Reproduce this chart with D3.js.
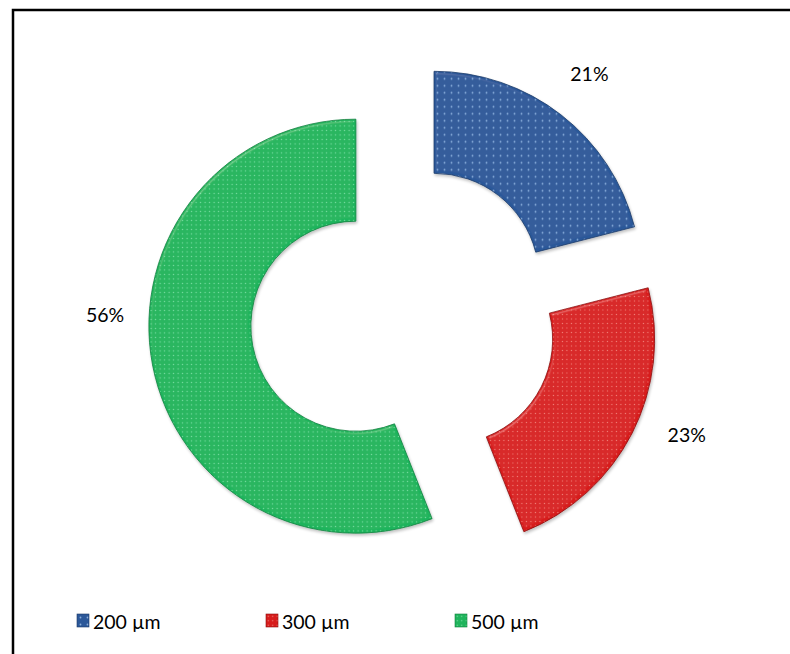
<!DOCTYPE html>
<html>
<head>
<meta charset="utf-8">
<script src="https://cdn.jsdelivr.net/npm/d3@7"></script>
<style>
  body { margin: 0; background: #fff; }
  svg text { font-family: Lato, "Open Sans", sans-serif; fill: #000; }
</style>
</head>
<body>
<div id="chart"></div>
<script>
// data
const categories = ["200 µm", "300 µm", "500 µm"];
const values = [21, 23, 56];
const labels = ["21%", "23%", "56%"];
const colors = ["#2C5899", "#D71C1C", "#1FB45C"];
const dotColors = ["#A3C2EA", "#F39A90", "#95E8B6"];
const darkColors = ["#1B3A68", "#8A0F0F", "#11803F"];

const width = 790, height = 654;
const cx = 404, cy = 317;
const outerR = 207, innerR = 105;
const explode = 49;
// Excel best-fit label placement: angle (deg) and distance from centre
const labelAngles = [37.3, 112.5, 270.5];
const labelDist = [306, 306, 299];

const svg = d3.select("#chart")
  .append("svg")
  .attr("width", width)
  .attr("height", height);

// frame
svg.append("rect")
  .attr("x", 13).attr("y", 10)
  .attr("width", 800).attr("height", 700)
  .attr("fill", "none")
  .attr("stroke", "#000")
  .attr("stroke-width", 2.5);

// dotted fill patterns
const defs = svg.append("defs");
const spacing = [7, 4.5, 4.5];
colors.forEach((c, i) => {
  const s = spacing[i];
  const p = defs.append("pattern")
    .attr("id", "pat" + i)
    .attr("patternUnits", "userSpaceOnUse")
    .attr("width", s).attr("height", s);
  p.append("rect").attr("width", s).attr("height", s).attr("fill", c);
  p.append("circle")
    .attr("cx", s / 2).attr("cy", s / 2)
    .attr("r", i === 0 ? 0.9 : 0.7)
    .attr("fill", dotColors[i])
    .attr("opacity", 0.8);
});

// bevel + soft shadow
const f = defs.append("filter").attr("id", "bevel")
  .attr("x", "-10%").attr("y", "-10%").attr("width", "120%").attr("height", "120%");
f.append("feGaussianBlur").attr("in", "SourceAlpha").attr("stdDeviation", 1.5).attr("result", "blur");
const spec = f.append("feSpecularLighting")
  .attr("in", "blur").attr("surfaceScale", 3)
  .attr("specularConstant", 0.5).attr("specularExponent", 25)
  .attr("lighting-color", "#ffffff").attr("result", "spec");
spec.append("feDistantLight").attr("azimuth", 235).attr("elevation", 40);
f.append("feComposite").attr("in", "spec").attr("in2", "SourceAlpha")
  .attr("operator", "in").attr("result", "specOut");
f.append("feComposite").attr("in", "SourceGraphic").attr("in2", "specOut")
  .attr("operator", "arithmetic").attr("k1", 0).attr("k2", 1).attr("k3", 0.25).attr("k4", 0)
  .attr("result", "lit");
f.append("feOffset").attr("in", "SourceAlpha").attr("dx", 1).attr("dy", 2).attr("result", "off");
f.append("feGaussianBlur").attr("in", "off").attr("stdDeviation", 1.5).attr("result", "offBlur");
f.append("feComponentTransfer").attr("in", "offBlur").attr("result", "shadow")
  .append("feFuncA").attr("type", "linear").attr("slope", 0.25);
const m = f.append("feMerge");
m.append("feMergeNode").attr("in", "shadow");
m.append("feMergeNode").attr("in", "lit");

const pie = d3.pie().sort(null).value(d => d)(values);
const arc = d3.arc().innerRadius(innerR).outerRadius(outerR);

const g = svg.append("g").attr("transform", `translate(${cx},${cy})`);

g.selectAll(".slice")
  .data(pie)
  .enter()
  .append("path")
  .attr("class", "slice")
  .attr("transform", d => {
    const a = (d.startAngle + d.endAngle) / 2;
    return `translate(${explode * Math.sin(a)},${-explode * Math.cos(a)})`;
  })
  .attr("d", arc)
  .attr("fill", (d, i) => `url(#pat${i})`)
  .attr("stroke", (d, i) => darkColors[i])
  .attr("stroke-width", 0.8)
  .attr("filter", "url(#bevel)");

// percentage labels
g.selectAll(".lbl")
  .data(pie)
  .enter()
  .append("text")
  .attr("class", "lbl")
  .attr("x", (d, i) => labelDist[i] * Math.sin(labelAngles[i] * Math.PI / 180))
  .attr("y", (d, i) => -labelDist[i] * Math.cos(labelAngles[i] * Math.PI / 180))
  .attr("text-anchor", "middle")
  .attr("dominant-baseline", "central")
  .style("font-size", "19.5px")
  .text((d, i) => labels[i]);

// legend
const legendX = d3.scalePoint().domain(categories).range([77, 455]);
const leg = svg.selectAll(".leg")
  .data(categories)
  .enter()
  .append("g")
  .attr("class", "leg")
  .attr("transform", d => `translate(${legendX(d)},614)`);

leg.append("rect")
  .attr("width", 12).attr("height", 13)
  .attr("fill", (d, i) => `url(#pat${i})`)
  .attr("stroke", (d, i) => darkColors[i])
  .attr("stroke-width", 0.6);

leg.append("text")
  .attr("x", 16)
  .attr("y", 7)
  .attr("dominant-baseline", "central")
  .style("font-size", "19.5px")
  .text(d => d);
</script>
</body>
</html>
